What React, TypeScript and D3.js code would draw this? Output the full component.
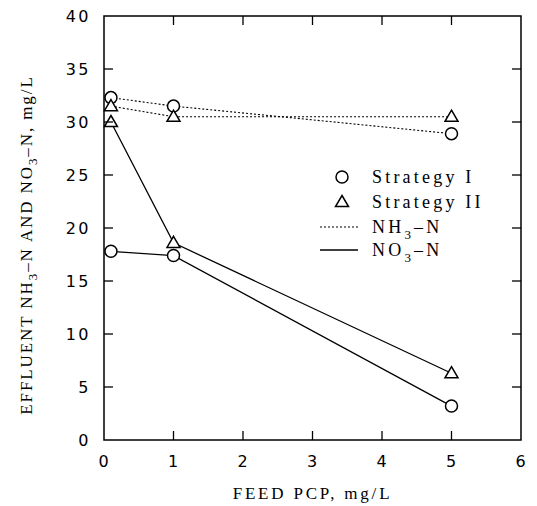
import React from "react";
import * as d3 from "d3";

const feedPCP = [0.1, 1, 5];
const nh3StrategyI = [32.3, 31.5, 28.9];
const nh3StrategyII = [31.5, 30.5, 30.5];
const no3StrategyI = [17.8, 17.4, 3.2];
const no3StrategyII = [30.0, 18.6, 6.3];
const xTicks = [0, 1, 2, 3, 4, 5, 6];
const yTicks = [0, 5, 10, 15, 20, 25, 30, 35, 40];

const W = 537, H = 506;
const M = { left: 104, right: 521, top: 16, bottom: 440 };

export default function App() {
  const x = d3.scaleLinear().domain([0, 6]).range([M.left, M.right]);
  const y = d3.scaleLinear().domain([0, 40]).range([M.bottom, M.top]);
  const line = d3.line<number>().x((_, i) => x(feedPCP[i])).y((d) => y(d));
  const serif = "'Liberation Serif', 'DejaVu Serif', serif";
  const sans = "'DejaVu Sans', sans-serif";

  const circle = (cx: number, cy: number, k: string) => (
    <circle key={k} cx={cx} cy={cy} r={6} fill="white" stroke="black" strokeWidth={1.5} />
  );
  const tri = (cx: number, cy: number, k: string) => {
    const s = 6.5;
    const p = d3.path();
    p.moveTo(cx, cy - s);
    p.lineTo(cx + s, cy + s * 0.7);
    p.lineTo(cx - s, cy + s * 0.7);
    p.closePath();
    return <path key={k} d={p.toString()} fill="white" stroke="black" strokeWidth={1.5} />;
  };

  const lx = 342;
  const tx = 372;
  const legendText = { fontFamily: serif, fontSize: 18, letterSpacing: 3.2 };
  return (
    <svg width={W} height={H} style={{ position: "absolute", left: 0, top: 0, background: "white" }}>
      <rect x={0} y={0} width={W} height={H} fill="white" />
      {/* lines */}
      <path d={line(nh3StrategyI) || ""} fill="none" stroke="black" strokeWidth={1.1} strokeDasharray="2,2" />
      <path d={line(nh3StrategyII) || ""} fill="none" stroke="black" strokeWidth={1.1} strokeDasharray="2,2" />
      <path d={line(no3StrategyI) || ""} fill="none" stroke="black" strokeWidth={1.3} />
      <path d={line(no3StrategyII) || ""} fill="none" stroke="black" strokeWidth={1.3} />
      {/* markers */}
      {nh3StrategyI.map((v, i) => circle(x(feedPCP[i]), y(v), "a" + i))}
      {nh3StrategyII.map((v, i) => tri(x(feedPCP[i]), y(v), "b" + i))}
      {no3StrategyI.map((v, i) => circle(x(feedPCP[i]), y(v), "c" + i))}
      {no3StrategyII.map((v, i) => tri(x(feedPCP[i]), y(v), "d" + i))}
      {/* frame */}
      <rect x={M.left} y={M.top} width={M.right - M.left} height={M.bottom - M.top} fill="none" stroke="black" strokeWidth={1.5} />
      {xTicks.slice(1, -1).map((t) => (
        <g key={"xt" + t}>
          <line x1={x(t)} x2={x(t)} y1={M.bottom} y2={M.bottom - 9} stroke="black" strokeWidth={1.3} />
          <line x1={x(t)} x2={x(t)} y1={M.top} y2={M.top + 9} stroke="black" strokeWidth={1.3} />
        </g>
      ))}
      {yTicks.slice(1, -1).map((t) => (
        <g key={"yt" + t}>
          <line x1={M.left} x2={M.left + 9} y1={y(t)} y2={y(t)} stroke="black" strokeWidth={1.3} />
          <line x1={M.right} x2={M.right - 9} y1={y(t)} y2={y(t)} stroke="black" strokeWidth={1.3} />
        </g>
      ))}
      {xTicks.map((t) => (
        <text key={"xl" + t} x={x(t)} y={M.bottom + 27} textAnchor="middle" fontFamily={sans} fontSize={16} letterSpacing={1}>{t}</text>
      ))}
      {yTicks.map((t) => (
        <text key={"yl" + t} x={M.left - 13} y={y(t) + 6} textAnchor="end" fontFamily={sans} fontSize={16} letterSpacing={2.5}>{t}</text>
      ))}
      {/* axis titles */}
      <text x={(M.left + M.right) / 2} y={499} textAnchor="middle" fontFamily={serif} fontSize={17} letterSpacing={2.8}>FEED PCP, mg/L</text>
      <text transform={`translate(32,245) rotate(-90)`} textAnchor="middle" fontFamily={serif} fontSize={17} letterSpacing={1.9}>
        EFFLUENT NH<tspan fontSize={13} dy={5}>3</tspan><tspan dy={-5}>–N AND NO</tspan><tspan fontSize={13} dy={5}>3</tspan><tspan dy={-5}>–N, mg/L</tspan>
      </text>
      {/* legend */}
      {circle(lx, 177, "lc")}
      {tri(lx, 202, "lt")}
      <line x1={320} x2={358} y1={227} y2={227} stroke="black" strokeWidth={1.1} strokeDasharray="2,2" />
      <line x1={320} x2={358} y1={250} y2={250} stroke="black" strokeWidth={1.3} />
      <text x={tx} y={183} {...legendText}>Strategy I</text>
      <text x={tx} y={208} {...legendText}>Strategy II</text>
      <text x={tx} y={233} {...legendText}>NH<tspan fontSize={13} dy={6}>3</tspan><tspan dy={-6}>–N</tspan></text>
      <text x={tx} y={256} {...legendText}>NO<tspan fontSize={13} dy={6}>3</tspan><tspan dy={-6}>–N</tspan></text>
    </svg>
  );
}
